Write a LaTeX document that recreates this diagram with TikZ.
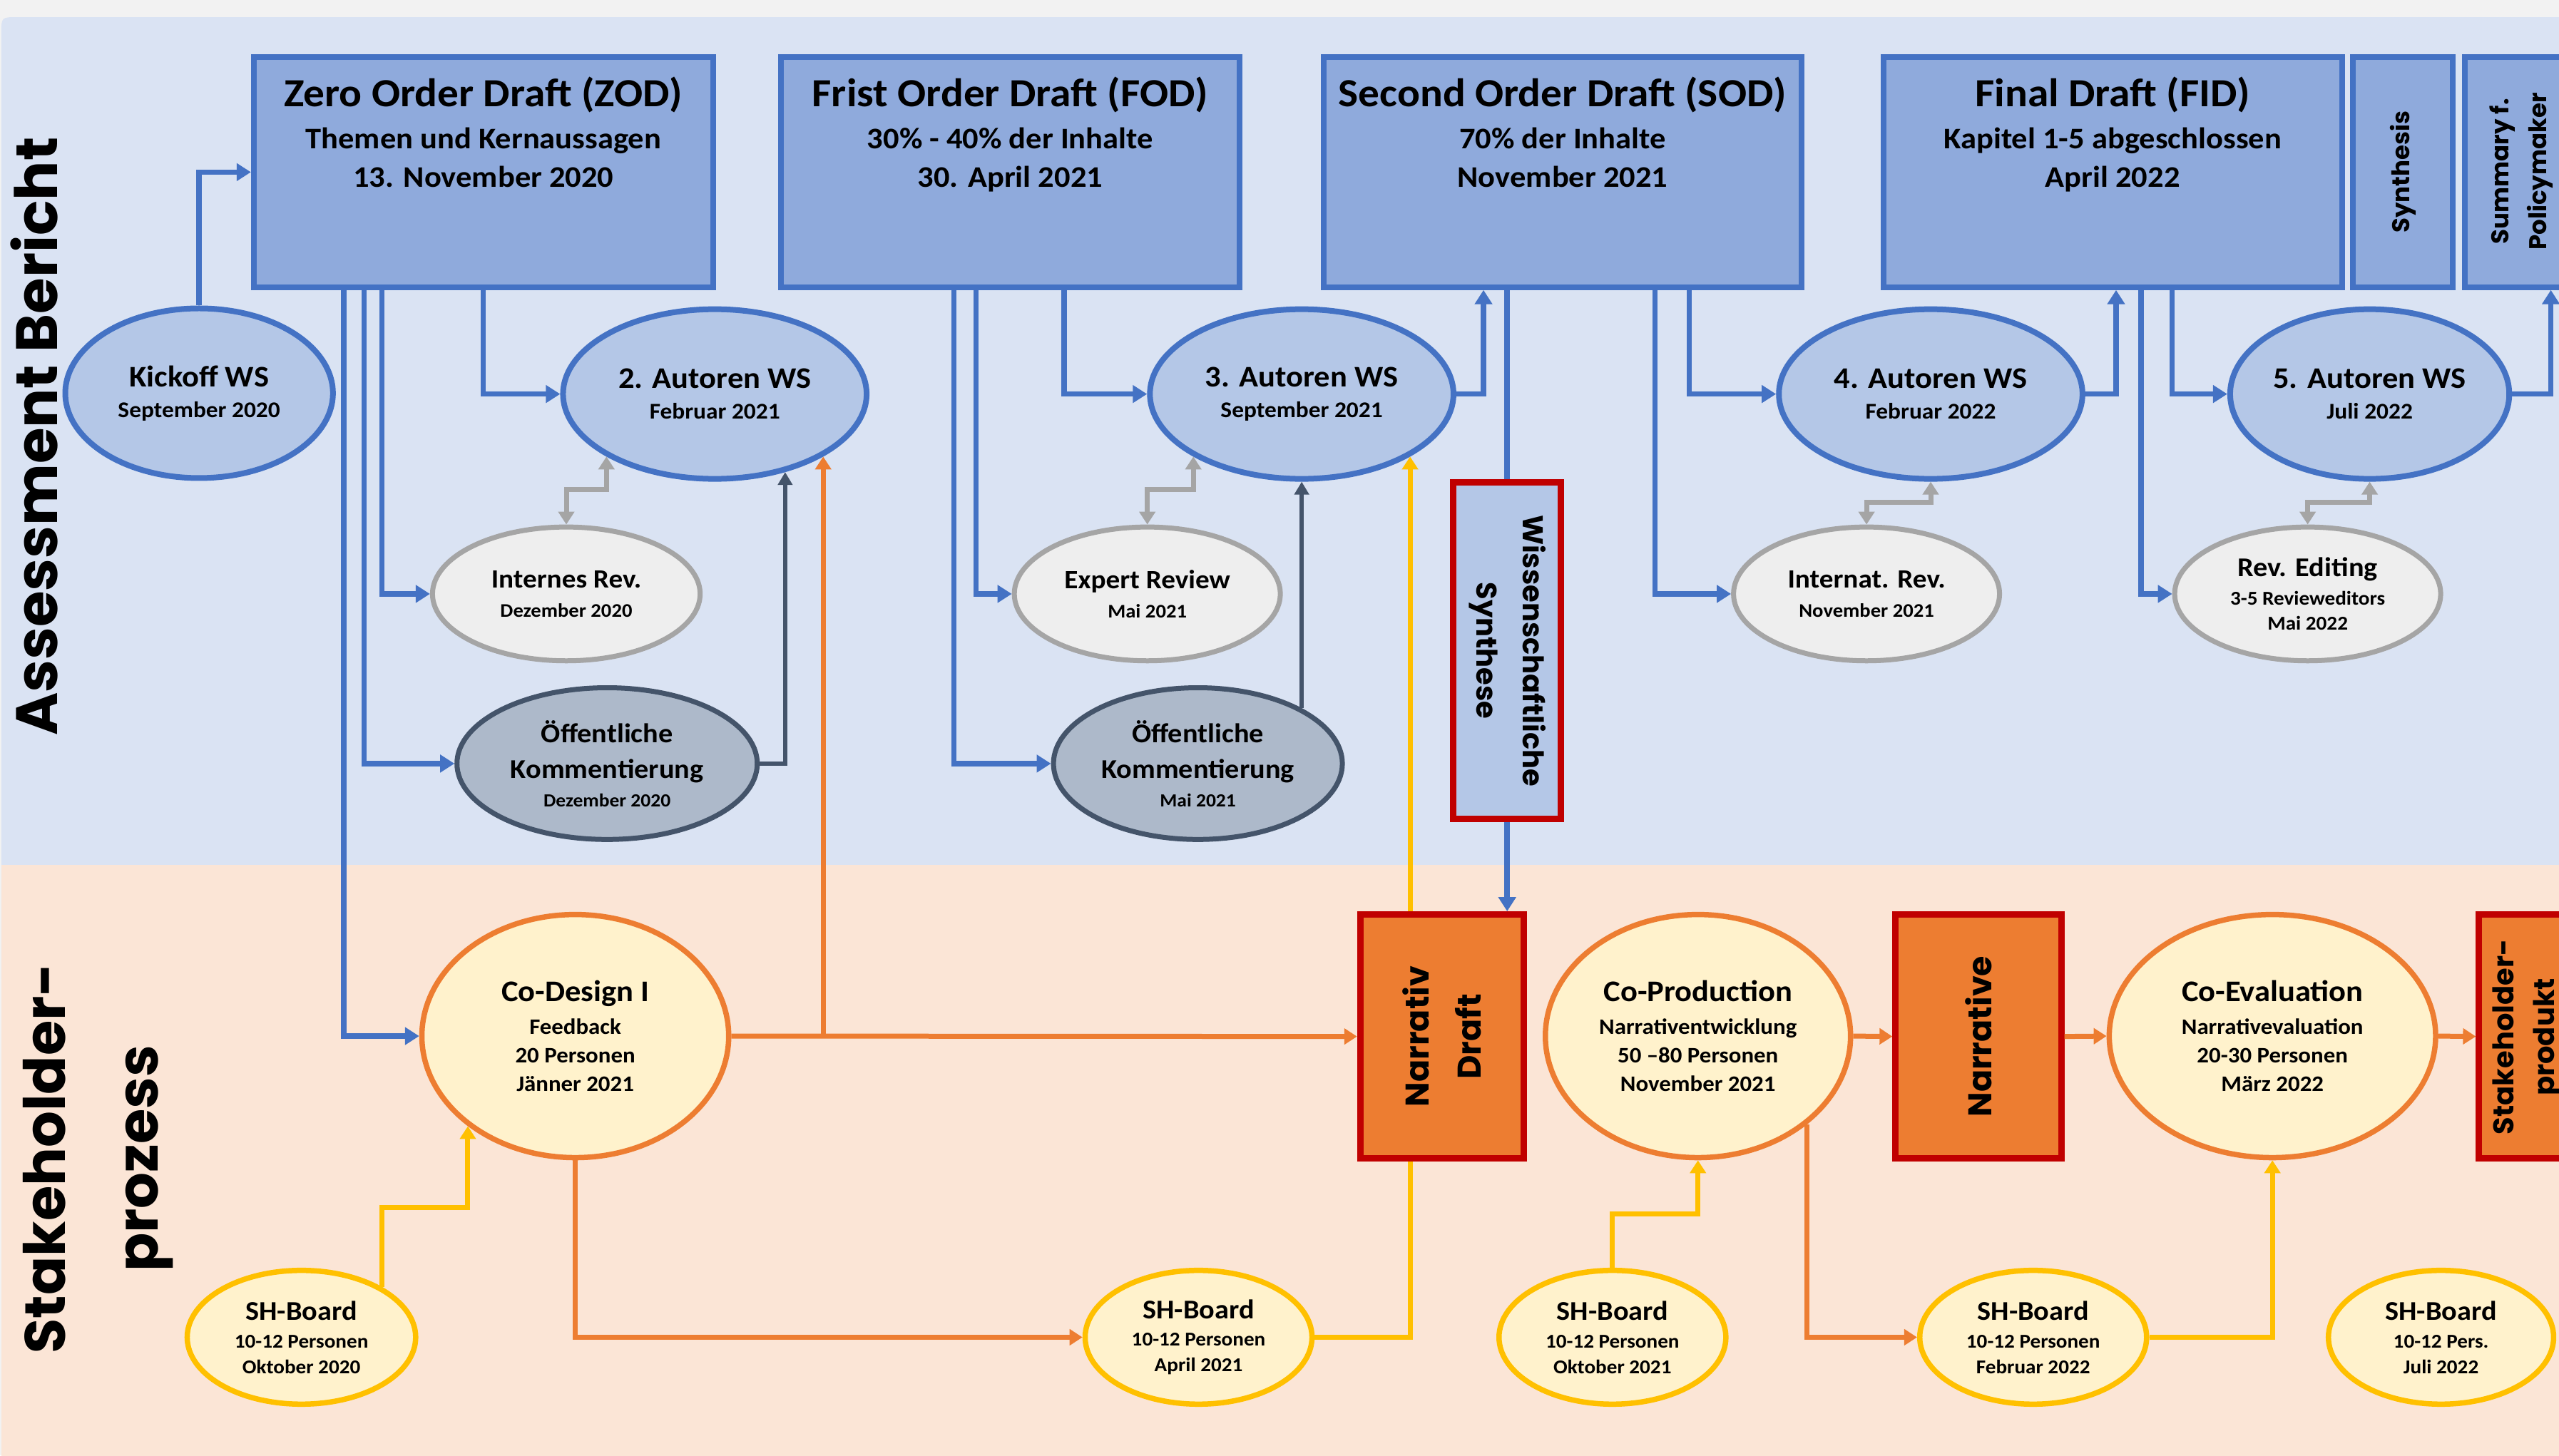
\documentclass[tikz,border=0pt]{standalone}
\usepackage{fontspec}
\setmainfont{Carlito}[FakeStretch=1.06]
\newfontfamily\gothic{Poppins}
\usetikzlibrary{arrows.meta,shapes.geometric,positioning}
\newdimen\U \U=2.2883pt
\newcommand\fsz[2]{\fontsize{#1}{#2}\selectfont}
\definecolor{cblue}{HTML}{4472C4}
\definecolor{cbox}{HTML}{8FAADC}
\definecolor{cell}{HTML}{B4C7E7}
\definecolor{cpanel}{HTML}{DAE3F3}
\definecolor{cpanelo}{HTML}{FBE5D6}
\definecolor{cgrayf}{HTML}{EEEEEE}
\definecolor{cgrayd}{HTML}{A5A5A5}
\definecolor{cslatef}{HTML}{ADB9CA}
\definecolor{cslated}{HTML}{44546A}
\definecolor{corange}{HTML}{ED7D31}
\definecolor{cgold}{HTML}{FFC000}
\definecolor{ccream}{HTML}{FFF2CC}
\definecolor{cred}{HTML}{C00000}
\definecolor{cbg}{HTML}{F2F2F2}
\begin{document}
\begin{tikzpicture}[x=2.2883pt, y=-2.2883pt,
  tbox/.style={rectangle, draw=cblue, fill=cbox, line width=8pt, inner sep=0pt},
  btext/.style={align=center, inner sep=0pt, font=\bfseries\fsz{42}{54}},
  bell/.style={ellipse, draw=cblue, fill=cell, line width=8pt, inner sep=0pt, align=center, font=\bfseries\fsz{31.5}{43}},
  gell/.style={ellipse, draw=cgrayd, fill=cgrayf, line width=7pt, inner sep=0pt, align=center, font=\bfseries\fsz{27}{41}},
  sell/.style={ellipse, draw=cslated, fill=cslatef, line width=7pt, inner sep=0pt, align=center, font=\bfseries\fsz{26}{40}},
  oell/.style={ellipse, draw=corange, fill=ccream, line width=7.5pt, inner sep=0pt, align=center, font=\bfseries\fsz{31}{40}},
  yell/.style={ellipse, draw=cgold, fill=ccream, line width=7.5pt, inner sep=0pt, align=center, font=\bfseries\fsz{27.5}{36}},
  rbox/.style={rectangle, draw=cred, fill=corange, line width=9pt, inner sep=0pt},
  wbox/.style={rectangle, draw=cred, fill=cell, line width=9pt, inner sep=0pt},
  gtext/.style={align=center, inner sep=0pt},
  bcon/.style={draw=cblue, line width=7.5pt},
  barr/.style={bcon, -{Triangle[length=20pt,width=24pt]}},
  garr/.style={draw=cgrayd, line width=7pt, {Triangle[length=18pt,width=22pt]}-{Triangle[length=18pt,width=22pt]}},
  sarr/.style={draw=cslated, line width=6.5pt, -{Triangle[length=18pt,width=20pt]}},
  oarr/.style={draw=corange, line width=7pt, -{Triangle[length=18pt,width=22pt]}},
  ycon/.style={draw=cgold, line width=7pt},
  yarr/.style={ycon, -{Triangle[length=18pt,width=22pt]}}
]
\useasboundingbox (0,0) rectangle (1568,892);
\clip (0,0) rectangle (1568,892);
% background and panels
\fill[cbg] (0,0) rectangle (1568,892);
\fill[cpanel] (0.8,600) -- (0.8,20.5) .. controls (0.8,10.5) .. (10.8,10.5) -- (1570,10.5) -- (1570,600) -- cycle;
\fill[cpanelo] (0.8,530) rectangle (1570,893);

% lane labels
\node[gtext, rotate=90, font=\gothic\bfseries\fsz{82}{90}] (lblA) at (21,267.5) {Assessment Bericht};
\node[gtext, rotate=90, font=\gothic\bfseries\fsz{80}{130}] (lblS) at (60,710) {Stakeholder-\\prozess};

% top boxes
\node[tbox, minimum width=281.5\U, minimum height=141\U] (zod) at (296.25,105.5) {};
\node[tbox, minimum width=281\U, minimum height=141\U] (fod) at (619,105.5) {};
\node[tbox, minimum width=293\U, minimum height=141\U] (sod) at (957.5,105.5) {};
\node[tbox, minimum width=281\U, minimum height=141\U] (fid) at (1294.5,105.5) {};
\node[tbox, minimum width=61.5\U, minimum height=141\U] (syn) at (1472.25,105.5) {};
\node[tbox, minimum width=89.5\U, minimum height=141\U] (spm) at (1555.25,105.5) {};

\node[btext, below=32pt of zod.north] (zodt) {{\fsz{56}{59}Zero Order Draft (ZOD)}\\[5pt]Themen und Kernaussagen\\13. November 2020};
\node[btext, below=32pt of fod.north] (fodt) {{\fsz{56}{59}Frist Order Draft (FOD)}\\[5pt]30\% - 40\% der Inhalte\\30. April 2021};
\node[btext, below=32pt of sod.north] (sodt) {{\fsz{56}{59}Second Order Draft (SOD)}\\[5pt]70\% der Inhalte\\November 2021};
\node[btext, below=32pt of fid.north] (fidt) {{\fsz{56}{59}Final Draft (FID)}\\[5pt]Kapitel 1-5 abgeschlossen\\April 2022};
\node[gtext, rotate=90, font=\gothic\bfseries\fsz{34}{40}] (synt) at (syn.center) {Synthesis};
\node[gtext, rotate=90, font=\gothic\bfseries\fsz{34}{53}] (spmt) at (1544.7,105) {Summary f.\\Policymaker};

% blue ellipses
\node[bell, minimum width=164\U, minimum height=104\U] (kick) at (122,241) {{\fsz{42}{43}Kickoff WS}\\September 2020};
\node[bell, minimum width=186\U, minimum height=104\U] (aw2) at (438,241.5) {{\fsz{42}{43}2. Autoren WS}\\Februar 2021};
\node[bell, minimum width=186\U, minimum height=104\U] (aw3) at (797.6,241.5) {{\fsz{42}{43}3. Autoren WS}\\September 2021};
\node[bell, minimum width=186\U, minimum height=104\U] (aw4) at (1183,241.5) {{\fsz{42}{43}4. Autoren WS}\\Februar 2022};
\node[bell, minimum width=171\U, minimum height=104\U] (aw5) at (1452,241.5) {{\fsz{42}{43}5. Autoren WS}\\Juli 2022};

% review ellipses
\node[gell, minimum width=164\U, minimum height=82\U] (irev) at (347,364) {{\fsz{37}{41}Internes Rev.}\\Dezember 2020};
\node[gell, minimum width=163\U, minimum height=82\U] (exrev) at (703,364) {{\fsz{37}{41}Expert Review}\\Mai 2021};
\node[gell, minimum width=163\U, minimum height=82\U] (intrev) at (1143.7,364) {{\fsz{37}{41}Internat. Rev.}\\November 2021};
\node[gell, minimum width=163\U, minimum height=82\U, font=\bfseries\fsz{27.5}{35}] (reved) at (1414,364) {{\fsz{38}{35}Rev. Editing}\\[5pt]3-5 Revieweditors\\Mai 2022};
\node[sell, minimum width=184\U, minimum height=93\U] (oek1) at (372,468) {{\fsz{38}{40}Öffentliche}\\[10pt]{\fsz{38}{40}Kommentierung}\\Dezember 2020};
\node[sell, minimum width=177\U, minimum height=93\U] (oek2) at (734,468) {{\fsz{38}{40}Öffentliche}\\[10pt]{\fsz{38}{40}Kommentierung}\\Mai 2021};

% synthesis box
\node[wbox, minimum width=66\U, minimum height=206.5\U] (wiss) at (923.5,398.75) {};
\node[gtext, rotate=-90, font=\gothic\bfseries\fsz{40}{65}] (wisst) at (wiss.center) {Wissenschaftliche\\Synthese};

% stakeholder process
\node[oell, minimum width=188\U, minimum height=149\U] (cod) at (352.5,635) {{\fsz{42}{40}Co-Design I}\\[5.7pt]Feedback\\20 Personen\\Jänner 2021};
\node[oell, minimum width=187\U, minimum height=149\U] (copr) at (1040.4,635) {{\fsz{42}{40}Co-Production}\\[5.7pt]Narrativentwicklung\\50 –80 Personen\\November 2021};
\node[oell, minimum width=200\U, minimum height=149\U] (coev) at (1392.4,635) {{\fsz{42}{40}Co-Evaluation}\\[5.7pt]Narrativevaluation\\20-30 Personen\\März 2022};
\node[rbox, minimum width=100\U, minimum height=149.5\U] (nd) at (883.5,635.25) {};
\node[gtext, rotate=90, font=\gothic\bfseries\fsz{46}{73}] (ndt) at (nd.center) {Narrativ\\Draft};
\node[rbox, minimum width=101.5\U, minimum height=149.5\U] (narr) at (1212.25,635.25) {};
\node[gtext, rotate=90, font=\gothic\bfseries\fsz{46}{60}] (narrt) at (narr.center) {Narrative};
\node[rbox, minimum width=91\U, minimum height=149.5\U] (shp) at (1564.5,635.25) {};
\node[gtext, rotate=90, font=\gothic\bfseries\fsz{40}{57}] (shpt) at (1548.5,635.6) {Stakeholder-\\produkt};

\node[yell, minimum width=140\U, minimum height=82\U] (sh1) at (184.7,819.6) {{\fsz{38}{36}SH-Board}\\[2.6pt]10-12 Personen\\Oktober 2020};
\node[yell, minimum width=139\U, minimum height=82\U] (sh2) at (734.4,819.6) {{\fsz{38}{36}SH-Board}\\[2.6pt]10-12 Personen\\April 2021};
\node[yell, minimum width=139\U, minimum height=82\U] (sh3) at (988,819.6) {{\fsz{38}{36}SH-Board}\\[2.6pt]10-12 Personen\\Oktober 2021};
\node[yell, minimum width=139\U, minimum height=82\U] (sh4) at (1245.8,819.6) {{\fsz{38}{36}SH-Board}\\[2.6pt]10-12 Personen\\Februar 2022};
\node[yell, minimum width=138\U, minimum height=82\U] (sh5) at (1495.7,819.6) {{\fsz{38}{36}SH-Board}\\[2.6pt]10-12 Pers.\\Juli 2022};

% blue connectors
\draw[barr] (kick.north) |- (zod.west);
\draw[barr] (zod.south -| 296,0) |- (aw2.west);
\draw[barr] (zod.south -| 210.7,0) |- (cod.west);
\draw[barr] (zod.south -| 223,0) |- (oek1.west);
\draw[barr] (zod.south -| 234,0) |- (irev.west);
\draw[barr] (fod.south -| 652,0) |- (aw3.west);
\draw[barr] (fod.south -| 598,0) |- (exrev.west);
\draw[barr] (fod.south -| 584.5,0) |- (oek2.west);
\draw[barr] (aw3.east) -| (sod.south -| 909,0);
\draw[bcon] (sod.south -| wiss.north) -- (wiss.north);
\draw[barr] (wiss.south) -- (wiss.south |- nd.north);
\draw[barr] (sod.south -| 1035,0) |- (aw4.west);
\draw[barr] (sod.south -| 1014,0) |- (intrev.west);
\draw[barr] (aw4.east) -| (fid.south -| 1296.6,0);
\draw[barr] (fid.south -| 1331,0) |- (aw5.west);
\draw[barr] (fid.south -| 1312,0) |- (reved.west);
\draw[barr] (aw5.east) -| (spm.south -| 1563,0);

% gray review links
\draw[garr] (irev.north) -- (irev.north |- 0,300) -| (aw2.210);
\draw[garr] (exrev.north) -- (exrev.north |- 0,300) -| (aw3.210);
\draw[garr] (intrev.north) -- (intrev.north |- 0,308) -| (aw4.south);
\draw[garr] (reved.north) -- (reved.north |- 0,308) -| (aw5.south);

% public commenting
\draw[sarr] (oek1.east) -| (aw2.312);
\draw[sarr] (aw3.south |- oek2.28) -- (aw3.south);

% orange
\draw[oarr] (cod.east) -- (nd.west);
\draw[oarr] (aw2.330 |- cod.east) -- (aw2.330);
\draw[oarr] (cod.south) |- (sh2.west);
\draw[oarr] (copr.east) -- (narr.west);
\draw[oarr] (narr.east) -- (coev.west);
\draw[oarr] (coev.east) -- (shp.west);
\draw[oarr] (copr.321) |- (sh4.west);

% yellow
\draw[yarr] (sh1.32) -- (sh1.32 |- 0,740) -| (cod.220);
\draw[ycon] (sh2.east) -| (aw3.330 |- nd.south);
\draw[yarr] (aw3.330 |- nd.north) -- (aw3.330);
\draw[yarr] (sh3.north) -- (sh3.north |- 0,744) -| (copr.south);
\draw[yarr] (sh4.east) -| (coev.south);
\end{tikzpicture}
\end{document}
